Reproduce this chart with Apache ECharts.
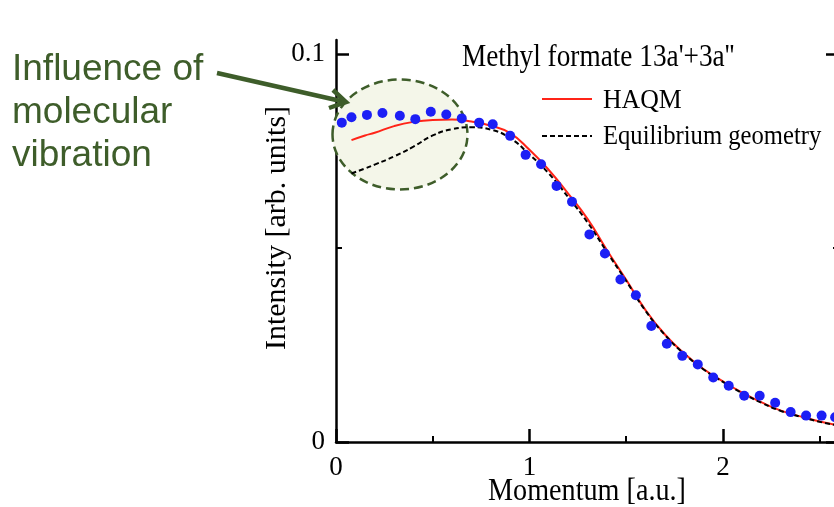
<!DOCTYPE html>
<html>
<head>
<meta charset="utf-8">
<title>Methyl formate 13a'+3a''</title>
<script src="https://cdn.jsdelivr.net/npm/echarts@6/dist/echarts.min.js"></script>
<style>
  html, body { margin: 0; padding: 0; background: #fff; }
  #chart { width: 834px; height: 507px; }
</style>
</head>
<body>
<div id="chart"></div>
<script>
// experiment (blue dots)
const expMomentum = [0.03, 0.08, 0.16, 0.24, 0.33, 0.41, 0.49, 0.57, 0.65, 0.74, 0.81, 0.90,
  0.98, 1.06, 1.14, 1.22, 1.31, 1.39, 1.47, 1.55, 1.63, 1.71, 1.79, 1.87, 1.95, 2.03,
  2.11, 2.19, 2.27, 2.35, 2.43, 2.51, 2.58];
const expIntensity = [0.0823, 0.0837, 0.0843, 0.0848, 0.0841, 0.0832, 0.0851, 0.0844, 0.0834, 0.0823, 0.0819, 0.0789,
  0.0740, 0.0716, 0.0660, 0.0619, 0.0535, 0.0486, 0.0419, 0.0378, 0.0299, 0.0253, 0.0222, 0.0200, 0.0166, 0.0145,
  0.0119, 0.0119, 0.0101, 0.0077, 0.0068, 0.0068, 0.0064];
const expError = [0.0009, 0.0009, 0.0009, 0.0009, 0.0009, 0.0009, 0.0009, 0.0009, 0.0009, 0.0009, 0.0009, 0.0009,
  0.0008, 0.0008, 0.0008, 0.0008, 0.0006, 0, 0, 0, 0, 0, 0, 0, 0, 0,
  0, 0, 0, 0, 0, 0, 0];

// theory curves
const theoryMomentum = [0.08, 0.15, 0.2, 0.3, 0.4, 0.5, 0.6, 0.7, 0.8, 0.9, 1.0, 1.1, 1.2, 1.3,
  1.4, 1.5, 1.6, 1.7, 1.8, 1.9, 2.0, 2.1, 2.2, 2.3, 2.4, 2.5, 2.6];
const haqm = [0.0778, 0.0790, 0.0797, 0.0814, 0.0825, 0.0830, 0.0831, 0.0826, 0.0815, 0.0796, 0.0753, 0.0701, 0.0640, 0.0575,
  0.0495, 0.0418, 0.0340, 0.0277, 0.0228, 0.0188, 0.0156, 0.0127, 0.0102, 0.0081, 0.0066, 0.0053, 0.0043];
const equilibrium = [0.0692, 0.0705, 0.0715, 0.0736, 0.0761, 0.0790, 0.0806, 0.0811, 0.0805, 0.0783, 0.0741, 0.0692, 0.0631, 0.0566,
  0.0490, 0.0415, 0.0338, 0.0276, 0.0227, 0.0187, 0.0155, 0.0126, 0.0101, 0.0080, 0.0065, 0.0052, 0.0042];

// tick labels
const xTickLabels = [0, 1, 2];
const yTickLabels = [0, 0.1];

const seriesNames = ['HAQM', 'Equilibrium geometry'];
const titleText = "Methyl formate 13a'+3a''";
const xName = 'Momentum [a.u.]';
const yName = 'Intensity [arb. units]';
const noteLines = ['Influence of', 'molecular', 'vibration'];

const serif = "'Liberation Serif', 'Times New Roman', serif";
const sans = "'Liberation Sans', Arial, sans-serif";
const green = '#3e5d2a';
const blue = '#1c1ff5';

const chart = echarts.init(document.getElementById('chart'), null, { renderer: 'canvas' });

function majorTick() {
  return { show: true, inside: true, length: 13, lineStyle: { color: '#000', width: 2.5 } };
}
function minorTick() {
  return { show: true, splitNumber: 2, length: 6, lineStyle: { color: '#000', width: 2 } };
}
function label(values, margin) {
  return {
    color: '#000', fontFamily: serif, fontSize: 27, margin: margin,
    customValues: values, formatter: v => String(v)
  };
}

// the frame runs a little above 0.1; a second grid (0..0.1) carries the y ticks
const option = {
  animation: false,
  backgroundColor: '#fff',
  grid: [
    { left: 336, top: 40, width: 503, height: 402, outerBoundsMode: 'none' },
    { left: 336, top: 54, width: 503, height: 388, outerBoundsMode: 'none' }
  ],
  xAxis: [
    {
      type: 'value', gridIndex: 0, min: 0, max: 2.6, interval: 1,
      splitLine: { show: false },
      axisLine: { show: true, lineStyle: { color: '#000', width: 2.5 } },
      axisTick: majorTick(),
      minorTick: minorTick(),
      axisLabel: label(xTickLabels, 12)
    },
    { type: 'value', gridIndex: 1, min: 0, max: 2.6, show: false }
  ],
  yAxis: [
    {
      type: 'value', gridIndex: 0, min: 0, max: 0.1036,
      splitLine: { show: false },
      axisLine: { show: true, lineStyle: { color: '#000', width: 2.5 } },
      axisTick: { show: false },
      axisLabel: { show: false }
    },
    {
      type: 'value', gridIndex: 0, position: 'right', min: 0, max: 0.1036,
      splitLine: { show: false },
      axisLine: { show: true, lineStyle: { color: '#000', width: 2.5 } },
      axisTick: { show: false },
      axisLabel: { show: false }
    },
    {
      type: 'value', gridIndex: 1, min: 0, max: 0.1, interval: 0.1,
      splitLine: { show: false },
      axisLine: { show: false },
      axisTick: majorTick(),
      minorTick: minorTick(),
      axisLabel: label(yTickLabels, 11)
    },
    {
      type: 'value', gridIndex: 1, position: 'right', min: 0, max: 0.1, interval: 0.1,
      splitLine: { show: false },
      axisLine: { show: false },
      axisTick: majorTick(),
      minorTick: minorTick(),
      axisLabel: { show: false }
    }
  ],
  series: [
    {
      name: seriesNames[0],
      type: 'line',
      smooth: true,
      symbol: 'none',
      z: 3,
      lineStyle: { color: '#ff2418', width: 2 },
      data: theoryMomentum.map((x, i) => [x, haqm[i]])
    },
    {
      name: seriesNames[1],
      type: 'line',
      smooth: true,
      symbol: 'none',
      z: 3,
      lineStyle: { color: '#000', width: 2, type: [5, 3] },
      data: theoryMomentum.map((x, i) => [x, equilibrium[i]])
    },
    {
      name: 'Experiment',
      type: 'custom',
      z: 4,
      data: expMomentum.map((x, i) => [x, expIntensity[i] - expError[i], expIntensity[i] + expError[i]]),
      renderItem: function (params, api) {
        const lo = api.coord([api.value(0), api.value(1)]);
        const hi = api.coord([api.value(0), api.value(2)]);
        return {
          type: 'line',
          shape: { x1: lo[0], y1: lo[1], x2: hi[0], y2: hi[1] },
          style: { stroke: blue, lineWidth: 3 }
        };
      }
    },
    {
      name: 'Experiment dots',
      type: 'scatter',
      symbolSize: 10,
      z: 4,
      itemStyle: { color: blue, opacity: 1 },
      data: expMomentum.map((x, i) => [x, expIntensity[i]])
    }
  ],
  graphic: [
    // highlighted low-momentum region
    {
      type: 'ellipse', z: 1,
      shape: { cx: 400, cy: 134.5, rx: 67.5, ry: 55 },
      style: { fill: '#f4f6e9', stroke: green, lineWidth: 2.5, lineDash: [9, 5] }
    },
    // arrow
    {
      type: 'line', z: 5,
      shape: { x1: 217, y1: 73, x2: 343, y2: 101.5 },
      style: { stroke: green, lineWidth: 4.5 }
    },
    {
      type: 'polyline', z: 5,
      shape: { points: [[329, 108], [346, 102], [333, 90]] },
      style: { stroke: green, lineWidth: 4.5, fill: null }
    },
    // note text
    ...noteLines.map((t, i) => ({
      type: 'text', z: 5, x: 12, y: 70 + i * 43,
      style: { text: t, font: '37px ' + sans, fill: green, align: 'left', verticalAlign: 'middle' }
    })),
    // title and legend
    {
      type: 'text', z: 5, x: 462, y: 58, scaleX: 0.88,
      style: { text: titleText, font: '31px ' + serif, fill: '#000', align: 'left', verticalAlign: 'middle' }
    },
    {
      type: 'line', z: 5,
      shape: { x1: 542, y1: 99, x2: 592, y2: 99 },
      style: { stroke: '#ff2418', lineWidth: 2 }
    },
    {
      type: 'text', z: 5, x: 603, y: 101, scaleX: 0.92,
      style: { text: seriesNames[0], font: '28px ' + serif, fill: '#000', align: 'left', verticalAlign: 'middle' }
    },
    {
      type: 'line', z: 5,
      shape: { x1: 542, y1: 136, x2: 592, y2: 136 },
      style: { stroke: '#000', lineWidth: 2, lineDash: [5, 3] }
    },
    {
      type: 'text', z: 5, x: 603, y: 137, scaleX: 0.88,
      style: { text: seriesNames[1], font: '28px ' + serif, fill: '#000', align: 'left', verticalAlign: 'middle' }
    },
    // axis names
    {
      type: 'text', z: 5, x: 277, y: 228, rotation: Math.PI / 2,
      style: { text: yName, font: '30px ' + serif, fill: '#000', align: 'center', verticalAlign: 'middle' }
    },
    {
      type: 'text', z: 5, x: 587, y: 492, scaleX: 0.88,
      style: { text: xName, font: '32px ' + serif, fill: '#000', align: 'center', verticalAlign: 'middle' }
    }
  ]
};

chart.setOption(option);
</script>
</body>
</html>
